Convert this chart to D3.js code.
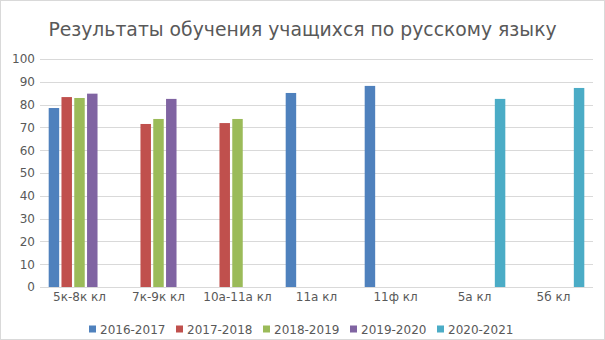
<!DOCTYPE html>
<html>
<head>
<meta charset="utf-8">
<script src="https://cdn.jsdelivr.net/npm/d3@7"></script>
<style>
  html, body { margin: 0; padding: 0; background: #fff; }
  svg { display: block; font-family: "DejaVu Sans", sans-serif; }
</style>
</head>
<body>
<svg id="chart" width="605" height="340"></svg>
<script>
// Classes and school years
const categories = ["5к-8к кл", "7к-9к кл", "10а-11а кл", "11а кл", "11ф кл", "5а кл", "5б кл"];
const seriesNames = ["2016-2017", "2017-2018", "2018-2019", "2019-2020", "2020-2021"];
const colors = ["#4F81BD", "#C0504D", "#9BBB59", "#8064A2", "#4BACC6"];

// Results per year, one value per class (null = no result that year)
const s2016 = [78.5, null, null, 85.1, 88.2, null, null];
const s2017 = [83.3, 71.5, 71.9, null, null, null, null];
const s2018 = [82.9, 73.7, 73.7, null, null, null, null];
const s2019 = [84.8, 82.5, null, null, null, null, null];
const s2020 = [null, null, null, null, null, 82.5, 87.3];
const seriesValues = [s2016, s2017, s2018, s2019, s2020];

const yTicks = [0, 10, 20, 30, 40, 50, 60, 70, 80, 90, 100];
const title = "Результаты обучения учащихся по русскому языку";

const W = 605, H = 340;
const plot = { left: 40, right: 593, top: 59, bottom: 287 };
const textColor = "#595959";

const svg = d3.select("#chart");

// outer chart border
svg.append("rect")
  .attr("x", 0.5).attr("y", 0.5)
  .attr("width", W - 1).attr("height", H - 1)
  .attr("fill", "#fff").attr("stroke", "#D9D9D9");

// title
svg.append("text")
  .attr("x", W / 2).attr("y", 36)
  .attr("text-anchor", "middle")
  .attr("font-size", 18.8)
  .attr("fill", textColor)
  .text(title);

const x0 = d3.scaleBand()
  .domain(categories)
  .range([plot.left, plot.right])
  .paddingInner(0.22)
  .paddingOuter(0.11);

const x1 = d3.scaleBand()
  .domain(seriesNames)
  .range([0, x0.bandwidth()])
  .paddingInner(0.18);

const y = d3.scaleLinear().domain([0, 100]).range([plot.bottom, plot.top]);

// gridlines
svg.append("g")
  .selectAll("line")
  .data(yTicks)
  .join("line")
  .attr("x1", plot.left).attr("x2", plot.right)
  .attr("y1", d => Math.round(y(d)) + 0.5)
  .attr("y2", d => Math.round(y(d)) + 0.5)
  .attr("stroke", "#D9D9D9")
  .attr("stroke-width", 1);

// y axis labels
const yAxis = d3.axisLeft(y).tickValues(yTicks).tickSize(0).tickPadding(4);
const gy = svg.append("g")
  .attr("transform", `translate(${plot.left - 1},0)`)
  .call(yAxis);
gy.select(".domain").remove();
gy.selectAll("text")
  .attr("font-size", 12)
  .attr("font-family", "DejaVu Sans, sans-serif")
  .attr("fill", textColor);

// bars
const groups = svg.append("g")
  .selectAll("g")
  .data(categories)
  .join("g")
  .attr("transform", d => `translate(${x0(d)},0)`);

groups.selectAll("rect")
  .data((c, ci) => seriesNames.map((s, si) => ({ s, si, v: seriesValues[si][ci] })).filter(d => d.v != null))
  .join("rect")
  .attr("x", d => x1(d.s))
  .attr("width", x1.bandwidth())
  .attr("y", d => y(d.v))
  .attr("height", d => y(0) - y(d.v))
  .attr("fill", d => colors[d.si]);

// x axis
const xAxis = d3.axisBottom(x0).tickSize(0).tickPadding(5);
const gx = svg.append("g")
  .attr("transform", `translate(0,${plot.bottom})`)
  .call(xAxis);
gx.select(".domain")
  .attr("stroke", "#D9D9D9")
  .attr("d", `M${plot.left},0.5H${plot.right}`);
gx.selectAll("text")
  .attr("font-size", 12)
  .attr("font-family", "DejaVu Sans, sans-serif")
  .attr("fill", textColor);

// legend
const legend = svg.append("g").attr("transform", "translate(89,329)");
const itemStep = 87;
const items = legend.selectAll("g")
  .data(seriesNames)
  .join("g")
  .attr("transform", (d, i) => `translate(${i * itemStep},0)`);
items.append("rect")
  .attr("x", 0).attr("y", -3.5)
  .attr("width", 7).attr("height", 7)
  .attr("fill", (d, i) => colors[i]);
items.append("text")
  .attr("x", 11).attr("y", 4.5)
  .attr("font-size", 12)
  .attr("fill", textColor)
  .text(d => d);
</script>
</body>
</html>
